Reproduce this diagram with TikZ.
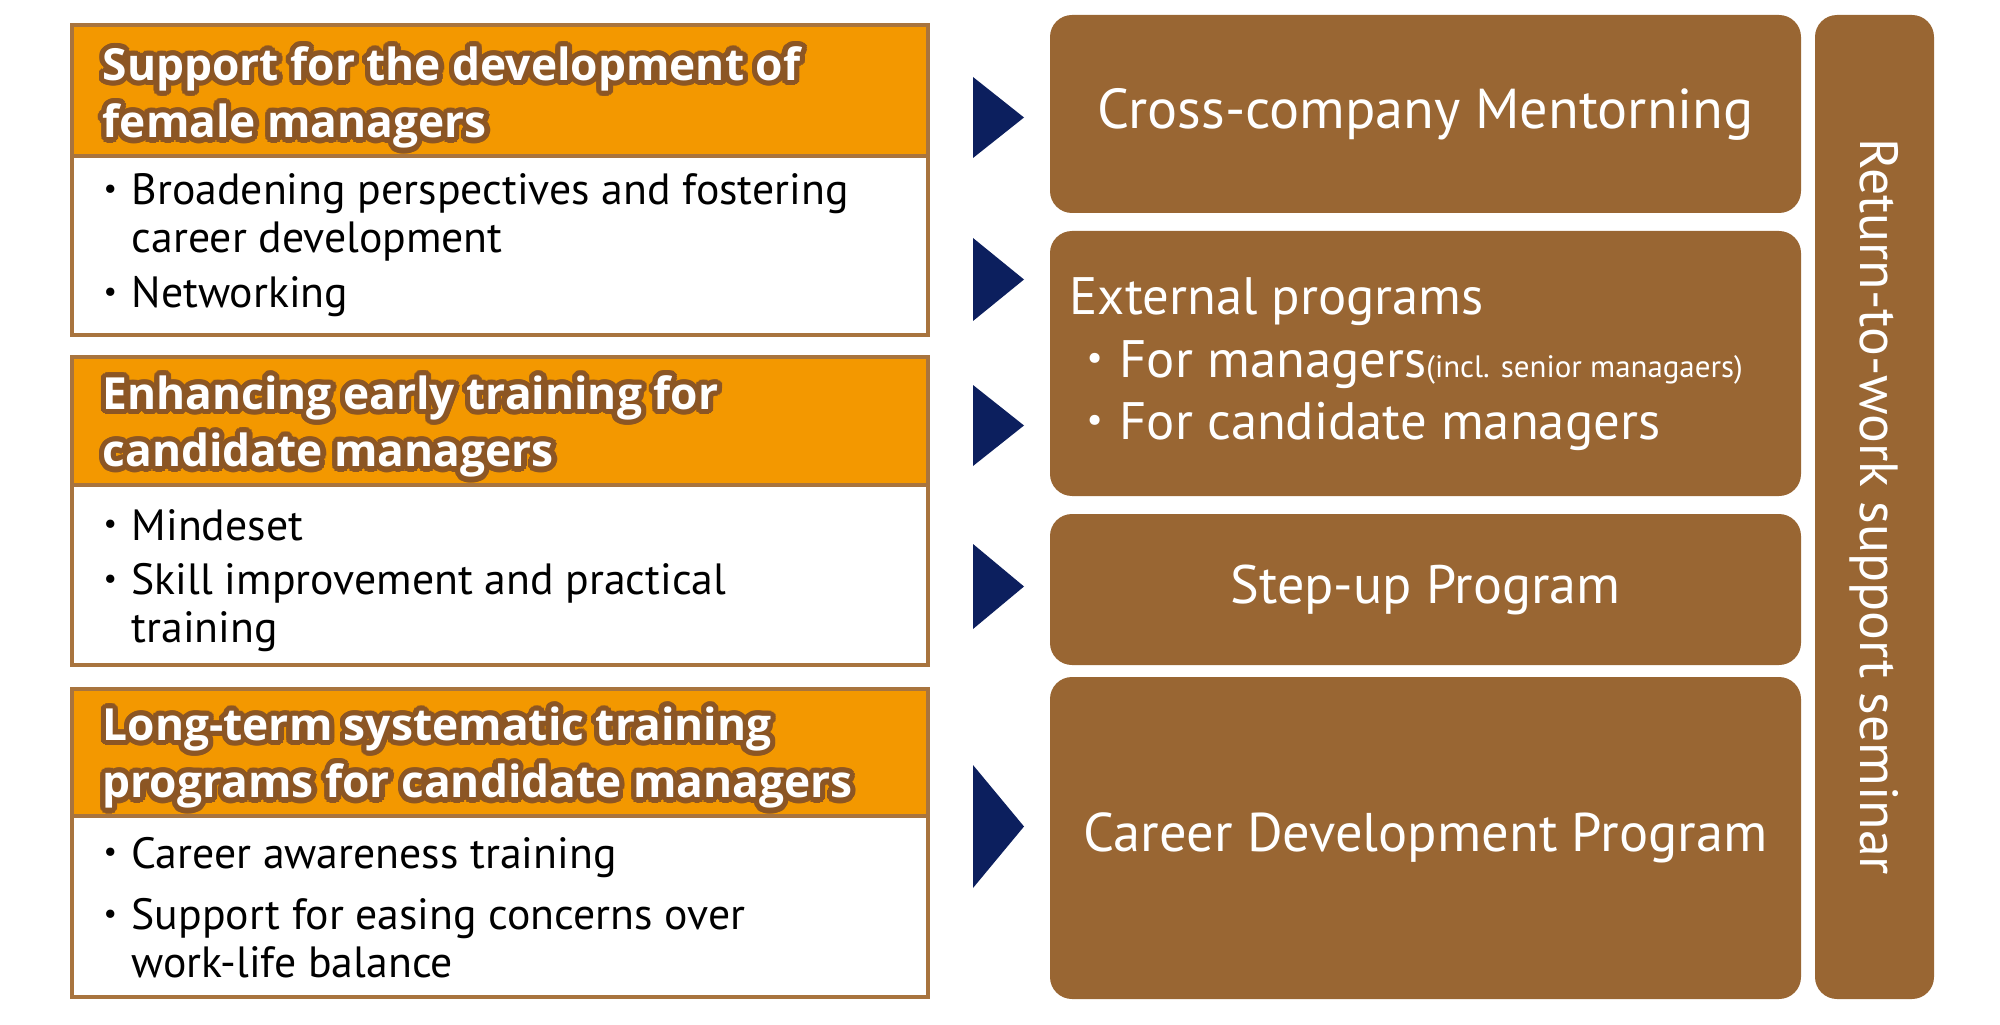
\documentclass[tikz,border=0pt]{standalone}
\usepackage{fontspec}
\setmainfont{PT Sans}
\newfontfamily\headfont{Open Sans}
\usepackage{contour}
\contourlength{1.5pt}
\contournumber{20}

\definecolor{hdorange}{RGB}{243,152,0}
\definecolor{hdedge}{RGB}{168,116,62}
\definecolor{halo}{RGB}{140,86,36}
\definecolor{progbrown}{RGB}{153,102,51}
\definecolor{tipnavy}{RGB}{12,31,94}

\newcommand{\dotmark}{\raisebox{0.15em}{\scalebox{0.68}{\textbullet}}}
\newcommand{\bul}{\makebox[0.29cm][l]{\hspace{0.01cm}\dotmark}}
\newcommand{\ind}{\hspace*{0.29cm}}
\newcommand{\hdline}[1]{\contour{halo}{#1}}

\begin{document}
\begin{tikzpicture}[
  headbox/.style={draw=hdedge,line width=1pt,fill=hdorange,minimum width=8.56cm},
  bodybox/.style={draw=hdedge,line width=1pt,fill=white,minimum width=8.56cm},
  headtext/.style={anchor=base west,inner sep=0pt,text width=7.9cm,align=flush left,text=white,font=\headfont\bfseries\fontsize{12.6}{16.3}\selectfont},
  bodytext/.style={anchor=base west,inner sep=0pt,text width=7.9cm,align=flush left,font=\fontsize{12.45}{13.6}\selectfont},
  progbox/.style={fill=progbrown,rounded corners=0.22cm,minimum width=7.51cm,text=white,font=\fontsize{15.4}{17}\selectfont},
]
  \useasboundingbox (0,0) rectangle (20,-10.25);

  % left column
  \node[headbox,minimum height=1.31cm] (head1) at (5.0,-0.905) {};
  \node[bodybox,minimum height=1.79cm] (body1) at (5.0,-2.455) {};
  \node[headbox,minimum height=1.28cm] (head2) at (5.0,-4.21) {};
  \node[bodybox,minimum height=1.80cm] (body2) at (5.0,-5.75) {};
  \node[headbox,minimum height=1.27cm] (head3) at (5.0,-7.525) {};
  \node[bodybox,minimum height=1.81cm] (body3) at (5.0,-9.065) {};

  \node[headtext] (head1txt) at (1.02,-0.805) {\hdline{Support for the development of}\\\hdline{female managers}};
  \node[headtext] (head2txt) at (1.02,-4.095) {\hdline{Enhancing early training for}\\\hdline{candidate managers}};
  \node[headtext] (head3txt) at (1.02,-7.405) {\hdline{Long-term systematic training}\\\hdline{programs for candidate managers}};

  \node[bodytext] (body1txt) at (1.02,-2.05) {\bul Broadening perspectives and fostering\\\ind career development\\[2pt]\bul Networking};
  \node[bodytext] (body2txt) at (1.02,-5.40) {\bul Mindeset\\[2pt]\bul Skill improvement and practical\\\ind training};
  \node[bodytext] (body3txt) at (1.02,-8.68) {\bul Career awareness training\\[4pt]\bul Support for easing concerns over\\\ind work-life balance};

  % pointers
  \foreach \yc/\h in {1.175/0.81,2.795/0.83,4.255/0.81,5.865/0.85,8.265/1.23}
    \fill[tipnavy] (9.73,{-\yc+\h/2}) -- (10.24,-\yc) -- (9.73,{-\yc-\h/2}) -- cycle;

  % programs
  \node[progbox,minimum height=1.98cm,font=\fontsize{16}{18}\selectfont] (mentor) at (14.255,-1.14) {Cross-company Mentorning};
  \node[progbox,minimum height=2.65cm] (external) at (14.255,-3.635) {};
  \node[anchor=base west,inner sep=0pt,text width=7.2cm,align=flush left,text=white,font=\fontsize{15}{17.7}\selectfont] (externaltxt) at (10.69,-3.15) {External programs\\\hspace*{0.17cm}\makebox[0.33cm][l]{\dotmark}For managers{\fontsize{8.8}{10}\selectfont(incl. senior managaers)}\\\hspace*{0.17cm}\makebox[0.33cm][l]{\dotmark}For candidate managers};
  \node[progbox,minimum height=1.51cm] (stepup) at (14.255,-5.895) {Step-up Program};
  \node[progbox,minimum height=3.22cm,font=\fontsize{15.5}{17}\selectfont] (career) at (14.255,-8.38) {Career Development Program};
  \node[progbox,rotate=-90,minimum width=9.84cm,minimum height=1.19cm,font=\fontsize{15.3}{17}\selectfont] (seminar) at (18.745,-5.07) {Return-to-work support seminar};
\end{tikzpicture}
\end{document}
